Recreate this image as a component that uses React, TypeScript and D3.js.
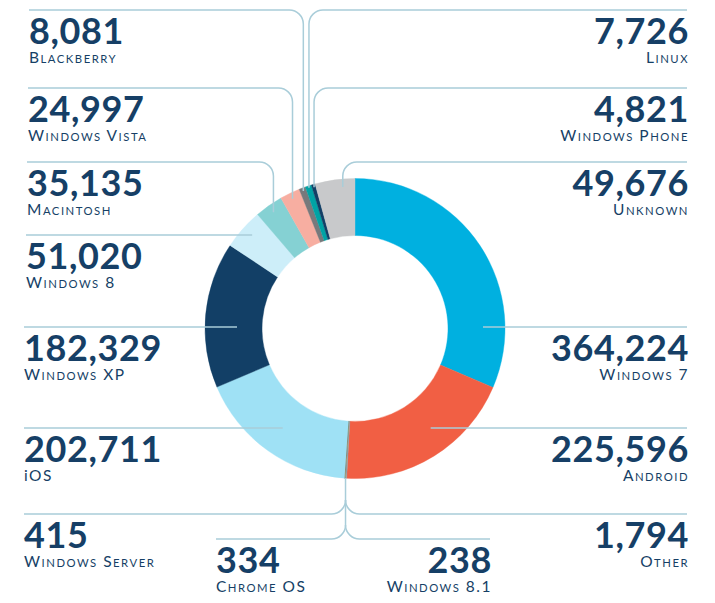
import React from "react";
import * as d3 from "d3";

const CATEGORIES = [
  "Windows 7", "Android", "Other", "Windows 8.1", "Chrome OS", "Windows Server",
  "iOS", "Windows XP", "Windows 8", "Macintosh", "Windows Vista", "Blackberry",
  "Linux", "Windows Phone", "Unknown",
];
const VALUES = [
  364224, 225596, 1794, 238, 334, 415,
  202711, 182329, 51020, 35135, 24997, 8081,
  7726, 4821, 49676,
];
const COLORS = [
  "#00b0e0", "#f15f44", "#9a9c9f", "#3d8fc6", "#f4c54a", "#55585c",
  "#9fe1f5", "#123f66", "#cdeef9", "#85d1d3", "#f7aea1", "#77797c",
  "#00a3a5", "#123f66", "#c8c9cb",
];

type Layout = { side: "left" | "right"; y: number; x: number; kind: "v" | "h" | "b"; r?: number; t?: number };
const LAYOUT: Record<string, Layout> = {
  "Blackberry": { side: "left", y: 10, x: 29, kind: "v", r: 147 },
  "Windows Vista": { side: "left", y: 88, x: 28, kind: "v", r: 144 },
  "Macintosh": { side: "left", y: 162, x: 27, kind: "v", r: 142 },
  "Windows 8": { side: "left", y: 235, x: 26, kind: "h", r: 139 },
  "Windows XP": { side: "left", y: 327, x: 24, kind: "h", r: 118 },
  "iOS": { side: "left", y: 428, x: 24, kind: "h", r: 123 },
  "Windows Server": { side: "left", y: 514, x: 24, kind: "b" },
  "Chrome OS": { side: "left", y: 539, x: 216, kind: "b" },
  "Linux": { side: "right", y: 10, x: 687, kind: "v", r: 148 },
  "Windows Phone": { side: "right", y: 88, x: 687, kind: "v", r: 147 },
  "Unknown": { side: "right", y: 162, x: 687, kind: "v", r: 142, t: 0.68 },
  "Windows 7": { side: "right", y: 327, x: 687, kind: "h", r: 128 },
  "Android": { side: "right", y: 428, x: 687, kind: "h", r: 125 },
  "Other": { side: "right", y: 514, x: 687, kind: "b" },
  "Windows 8.1": { side: "right", y: 539, x: 490, kind: "b" },
};

const W = 715;
const H = 603;
const CX = 355;
const CY = 328.5;
const R_OUT = 150;
const R_IN = 93;
const RC = 14;
const LINE = "#a9cdd9";
const INK = "#163f66";
const FONT = "Lato, 'Open Sans', sans-serif";

function SmallCaps({ text }: { text: string }) {
  const parts: React.ReactNode[] = [];
  const words = text.split(" ");
  words.forEach((w, wi) => {
    if (wi > 0) parts.push(<tspan key={`s${wi}`} fontSize={15.5}>{" "}</tspan>);
    if (w === "iOS") {
      parts.push(<tspan key={`w${wi}`} fontSize={15.5}>{w}</tspan>);
      return;
    }
    w.split("").forEach((ch, ci) => {
      const lower = /[a-z]/.test(ch);
      parts.push(
        <tspan key={`c${wi}-${ci}`} fontSize={lower ? 11.3 : 15.5}>
          {lower ? ch.toUpperCase() : ch}
        </tspan>
      );
    });
  });
  return <>{parts}</>;
}

export default function App() {
  const data = CATEGORIES.map((c, i) => ({ name: c, value: VALUES[i], color: COLORS[i] }));
  const pie = d3.pie<any>().value((d) => d.value).sort(null).startAngle(0).endAngle(2 * Math.PI);
  const arcs = pie(data);
  const arcGen = d3.arc<any>().innerRadius(R_IN).outerRadius(R_OUT);
  const fmt = d3.format(",");

  const bottomNames = ["Other", "Windows 8.1", "Chrome OS", "Windows Server"];
  const bottomArcs = arcs.filter((a) => bottomNames.includes(a.data.name));
  const bA = (d3.min(bottomArcs, (a) => a.startAngle)! + d3.max(bottomArcs, (a) => a.endAngle)!) / 2;
  const bx = CX + R_OUT * Math.sin(bA);
  const by = CY - R_OUT * Math.cos(bA);

  const connectors: React.ReactNode[] = [];
  arcs.forEach((a, i) => {
    const L = LAYOUT[a.data.name];
    if (!L || L.kind === "b") return;
    const t = L.t ?? 0.5;
    const ang = a.startAngle + (a.endAngle - a.startAngle) * t;
    let d = "";
    if (L.kind === "v") {
      const vx = CX + L.r! * Math.sin(ang);
      const vy = CY - L.r! * Math.cos(ang);
      if (L.side === "left") {
        d = `M${L.x},${L.y}H${vx - RC}A${RC},${RC} 0 0 1 ${vx},${L.y + RC}V${vy}`;
      } else {
        d = `M${L.x},${L.y}H${vx + RC}A${RC},${RC} 0 0 0 ${vx},${L.y + RC}V${vy}`;
      }
    } else {
      const dy = L.y - CY;
      const dx = Math.sqrt(Math.max(0, L.r! * L.r! - dy * dy));
      const ex = L.side === "left" ? CX - dx : CX + dx;
      d = `M${L.x},${L.y}H${ex}`;
    }
    connectors.push(<path key={`c${i}`} d={d} fill="none" stroke={LINE} strokeWidth={1.5} />);
  });

  // bottom brace for the tiny slices
  const yS = LAYOUT["Windows Server"].y;
  const yC = LAYOUT["Chrome OS"].y;
  const braces = [
    `M${bx},${by}V${yC - RC}`,
    `M${bx},${yS - RC}A${RC},${RC} 0 0 1 ${bx - RC},${yS}H${LAYOUT["Windows Server"].x}`,
    `M${bx},${yS - RC}A${RC},${RC} 0 0 0 ${bx + RC},${yS}H${LAYOUT["Other"].x}`,
    `M${bx},${yC - RC}A${RC},${RC} 0 0 1 ${bx - RC},${yC}H${LAYOUT["Chrome OS"].x}`,
    `M${bx},${yC - RC}A${RC},${RC} 0 0 0 ${bx + RC},${yC}H${LAYOUT["Windows 8.1"].x}`,
  ];

  return (
    <svg width={W} height={H} style={{ position: "absolute", left: 0, top: 0, background: "#fff" }} fontFamily={FONT}>
      <rect width={W} height={H} fill="#fff" />
      <g transform={`translate(${CX},${CY})`}>
        {arcs.map((a, i) => (
          <path key={i} d={arcGen(a) || ""} fill={a.data.color} stroke={a.data.color} strokeWidth={0.4} />
        ))}
      </g>
      {connectors}
      {braces.map((d, i) => (
        <path key={`b${i}`} d={d} fill="none" stroke={LINE} strokeWidth={1.5} />
      ))}
      {data.map((d, i) => {
        const L = LAYOUT[d.name];
        const anchor = L.side === "left" ? "start" : "end";
        const tx = L.side === "left" ? L.x : L.x + 2;
        return (
          <g key={`t${i}`} fill={INK}>
            <text x={tx} y={L.y + 34} fontSize={36} fontWeight={700} letterSpacing={0.6} textAnchor={anchor}>
              {fmt(d.value)}
            </text>
            <text x={tx} y={L.y + 53} letterSpacing={1.5} textAnchor={anchor} fontWeight={400}>
              <SmallCaps text={d.name} />
            </text>
          </g>
        );
      })}
    </svg>
  );
}
